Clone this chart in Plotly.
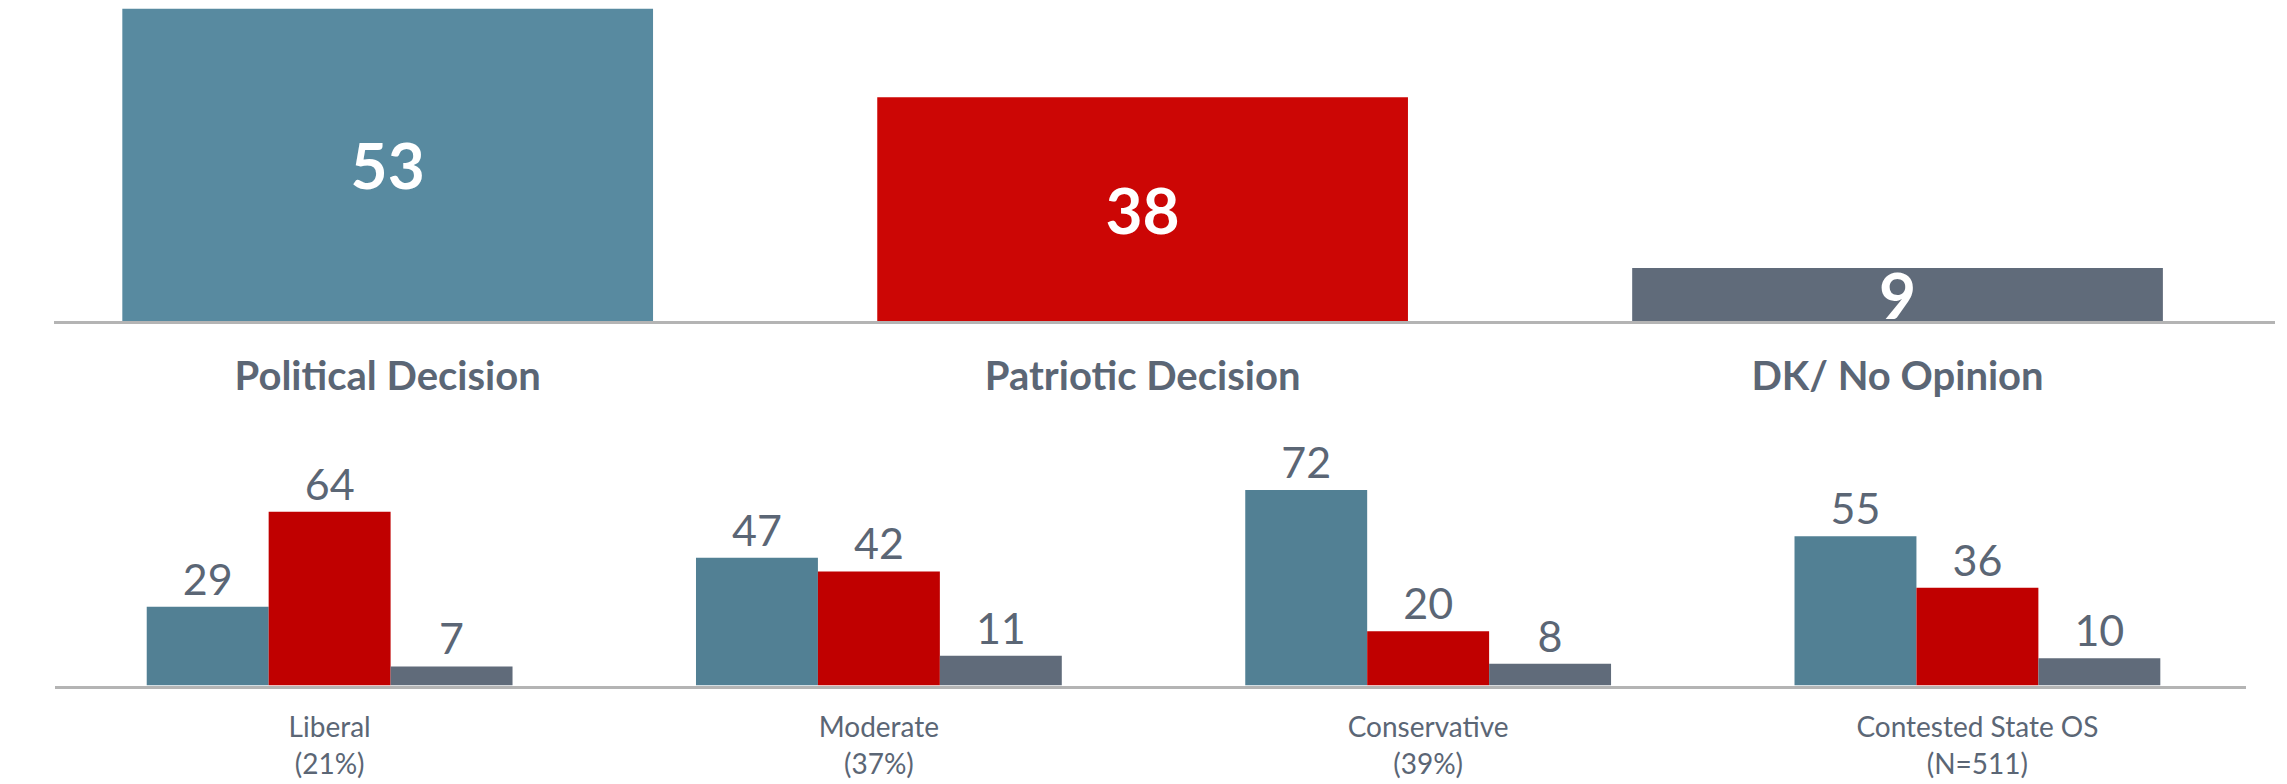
import plotly.graph_objects as go

# ---- data ----
top_categories = ["Political Decision", "Patriotic Decision", "DK/ No Opinion"]
top_values = [53, 38, 9]

bottom_categories = ["Liberal<br>(21%)", "Moderate<br>(37%)", "Conservative<br>(39%)", "Contested State OS<br>(N=511)"]
political = [29, 47, 72, 55]
patriotic = [64, 42, 20, 36]
dk = [7, 11, 8, 10]

series_names = ["Political Decision", "Patriotic Decision", "DK/ No Opinion"]

# ---- style ----
FONT = "Lato"
TXT = "#5B6675"
top_colors = ["#588AA0", "#CC0605", "#606B7A"]
bot_colors = ["#528094", "#C00000", "#606B7A"]
W, H = 2287, 784

def py(p):
    return 1 - p / H

fig = go.Figure()

fig.add_trace(go.Bar(
    x=list(range(len(top_values))), y=top_values,
    marker=dict(color=top_colors, line=dict(width=0)),
    width=0.703,
    text=[str(v) for v in top_values], textposition="inside",
    insidetextanchor="middle", textangle=0, constraintext="none",
    textfont=dict(family=FONT, size=64, color="white", weight="bold"),
    xaxis="x", yaxis="y", showlegend=False, hoverinfo="skip",
))

for name, vals, col in zip(series_names, [political, patriotic, dk], bot_colors):
    fig.add_trace(go.Bar(
        x=list(range(len(vals))), y=vals, name=name,
        marker=dict(color=col, line=dict(width=0)),
        text=[str(v) for v in vals], textposition="outside",
        cliponaxis=False, textangle=0, constraintext="none",
        textfont=dict(family=FONT, size=43, color=TXT),
        xaxis="x2", yaxis="y2", showlegend=False, hoverinfo="skip",
    ))

fig.update_layout(
    width=W, height=H,
    margin=dict(l=0, r=0, t=0, b=0),
    paper_bgcolor="white", plot_bgcolor="white",
    barmode="group", bargap=0.334, bargroupgap=0,
    font=dict(family=FONT, color=TXT),
    xaxis=dict(
        domain=[54 / W, 2275 / W], range=[-0.442, 2.5],
        tickvals=list(range(len(top_categories))), ticktext=top_categories,
        tickfont=dict(family=FONT, size=40, color=TXT, weight="bold"),
        showline=True, linecolor="#B4B4B4", linewidth=3,
        showgrid=False, zeroline=False, ticks="", ticklabelstandoff=18,
        anchor="y",
    ),
    yaxis=dict(
        domain=[py(321), 1.0], range=[0, 54.5],
        visible=False, showgrid=False, zeroline=False,
    ),
    xaxis2=dict(
        domain=[55 / W, 2246 / W], range=[-0.5, 3.489],
        tickvals=list(range(len(bottom_categories))), ticktext=bottom_categories,
        tickfont=dict(family=FONT, size=28, color=TXT),
        showline=True, linecolor="#B4B4B4", linewidth=3,
        showgrid=False, zeroline=False, ticks="", ticklabelstandoff=15,
        anchor="y2",
    ),
    yaxis2=dict(
        domain=[py(685.5), py(440)], range=[0, 90.4],
        visible=False, showgrid=False, zeroline=False,
    ),
)

fig.write_html("out.html",
               config={"displayModeBar": False},
               post_script="document.body.style.margin='0';document.body.style.overflow='hidden';")
